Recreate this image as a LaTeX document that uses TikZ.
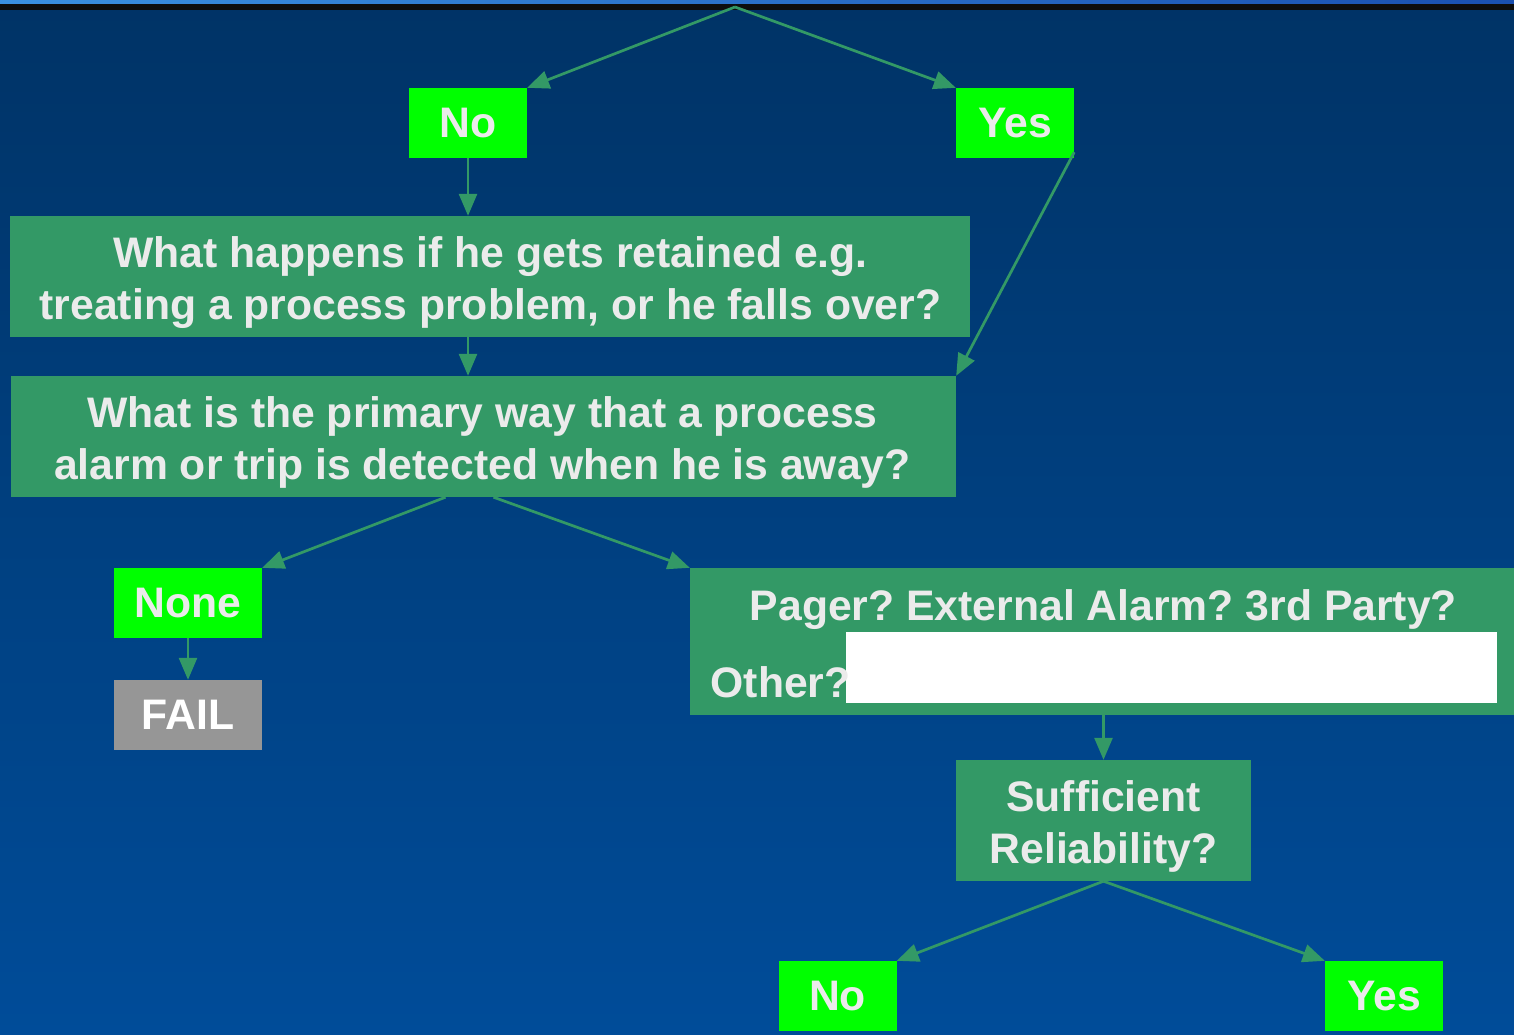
\documentclass[tikz,border=0pt]{standalone}
\usepackage{fontspec}
\setmainfont{Liberation Sans}
\usetikzlibrary{arrows.meta}
\frenchspacing
\definecolor{bgtop}{HTML}{003366}
\definecolor{bgbot}{HTML}{004C99}
\definecolor{boxgreen}{HTML}{339966}
\definecolor{ansgreen}{HTML}{00FF00}
\definecolor{txtgray}{HTML}{EBEBEB}
\definecolor{failgray}{HTML}{969696}
\definecolor{stripl}{HTML}{3A90E0}
\definecolor{stripr}{HTML}{1A50B0}
\begin{document}
\begin{tikzpicture}[x=1pt,y=-1pt,
  ans/.style={fill=ansgreen, text=txtgray, font=\bfseries\fontsize{42.7}{52}\selectfont, inner sep=0pt, minimum width=118pt, minimum height=70pt},
  failbox/.style={fill=failgray, text=white, font=\bfseries\fontsize{42.7}{52}\selectfont, inner sep=0pt, minimum width=148pt, minimum height=70pt},
  qbox/.style={fill=boxgreen, inner sep=0pt},
  qtext/.style={text=txtgray, font=\bfseries\fontsize{42.7}{52}\selectfont\frenchspacing, inner sep=0pt, anchor=base},
  conn/.style={draw=boxgreen, line width=2.7pt, -{Triangle[length=22pt,width=18pt]}}]
\useasboundingbox (0,0) rectangle (1514,1034);
\shade[top color=bgtop, bottom color=bgbot] (0,0) rectangle (1514,1034);
\shade[left color=stripl, right color=stripr] (0,0) rectangle (1514,4);
\fill[black!95] (0,4) rectangle (1514,10);

\coordinate (apex) at (735,7);
\node[ans] (no1) at (468,123) {No};
\node[ans] (yes1) at (1015,123) {Yes};

\node[qbox, minimum width=960pt, minimum height=121pt] (q1) at (490,276.5) {};
\node[qtext] (q1a) at (490.5,267.3) {What happens if he gets retained e.g.};
\node[qtext] (q1b) at (490.5,319) {treating a process problem, or he falls over?};

\node[qbox, minimum width=945pt, minimum height=121pt] (q2) at (483.5,436.5) {};
\node[qtext] (q2a) at (482.5,427.3) {What is the primary way that a process};
\node[qtext] (q2b) at (482.5,479) {alarm or trip is detected when he is away?};

\node[ans, minimum width=148pt] (none) at (188,603) {None};
\node[failbox] (fail) at (188,715) {FAIL};

\node[qbox, minimum width=824pt, minimum height=147pt] (pager) at (1102,641.5) {};
\node[qtext] (ptext) at (1103.5,620) {Pager? External Alarm? 3rd Party?};
\node[fill=white, minimum width=651pt, minimum height=71pt, inner sep=0pt] (blank) at (1171.5,667.5) {};
\node[qtext, anchor=base west] (other) at (710.5,697) {Other?};

\node[qbox, minimum width=295pt, minimum height=121pt] (suff) at (1103.5,820.5) {};
\node[qtext] (s1) at (1103.5,811) {Sufficient};
\node[qtext] (s2) at (1103.5,863) {Reliability?};

\node[ans] (no2) at (837.5,996) {No};
\node[ans] (yes2) at (1384,996) {Yes};

\draw[conn] (apex) -- (no1.north east);
\draw[conn] (apex) -- (yes1.north west);
\draw[conn] (no1.south) -- (q1.north -| no1.south);
\draw[conn] (q1.south -| no1.south) -- (q2.north -| no1.south);
\draw[conn] ([yshift=6pt]yes1.south east) -- (q2.north east);
\draw[conn] ([xshift=-38pt]q2.south) -- (none.north east);
\draw[conn] ([xshift=10pt]q2.south) -- (pager.north west);
\draw[conn] (none.south) -- (fail.north);
\draw[conn] (pager.south -| suff.south) -- (suff.north);
\draw[conn] (suff.south) -- (no2.north east);
\draw[conn] (suff.south) -- (yes2.north west);
\end{tikzpicture}
\end{document}
